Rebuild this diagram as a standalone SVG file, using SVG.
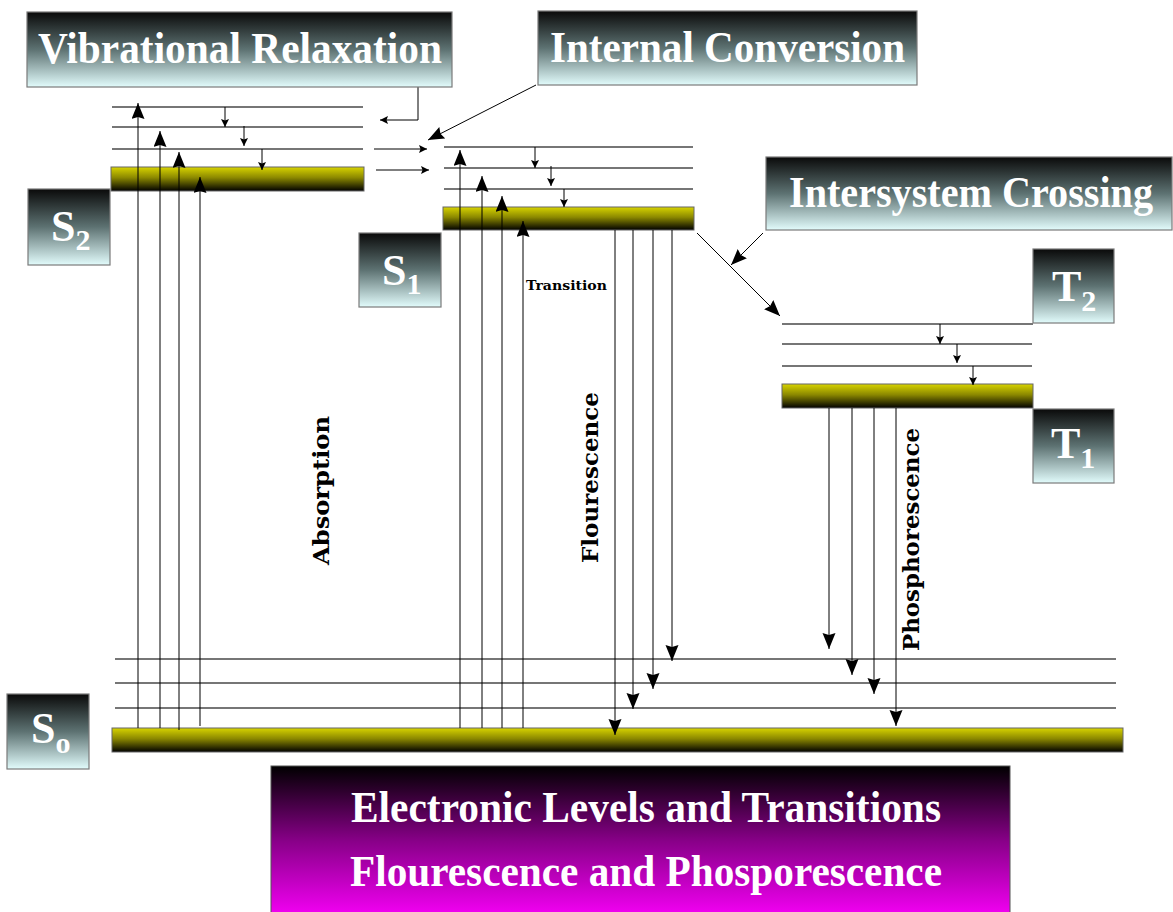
<svg xmlns="http://www.w3.org/2000/svg" width="1173" height="912" viewBox="0 0 1173 912">
<defs>
<linearGradient id="boxg" x1="0" y1="0" x2="0" y2="1">
<stop offset="0" stop-color="#0a0a0a"/>
<stop offset="0.5" stop-color="#5d7272"/>
<stop offset="1" stop-color="#e2fcfc"/>
</linearGradient>
<linearGradient id="barg" x1="0" y1="0" x2="0" y2="1">
<stop offset="0" stop-color="#d8d400"/>
<stop offset="0.45" stop-color="#8a8700"/>
<stop offset="1" stop-color="#000000"/>
</linearGradient>
<linearGradient id="titleg" x1="0" y1="0" x2="0" y2="1">
<stop offset="0" stop-color="#000000"/>
<stop offset="0.5" stop-color="#880088"/>
<stop offset="1" stop-color="#f400f4"/>
</linearGradient>
<marker id="big" markerUnits="userSpaceOnUse" markerWidth="18" markerHeight="14" refX="16" refY="6.5" orient="auto">
<path d="M0,0 L16,6.5 L0,13 L2,6.5 z" fill="#000"/>
</marker>
<marker id="small" markerUnits="userSpaceOnUse" markerWidth="10" markerHeight="10" refX="8" refY="4" orient="auto">
<path d="M0,0 L8,4 L0,8 L1.5,4 z" fill="#000"/>
</marker>
<style>
.box{fill:url(#boxg);stroke:#7a7a7a;stroke-width:1.2}
.bar{fill:url(#barg);stroke:#666;stroke-width:1}
.lvl{stroke:#4a4a4a;stroke-width:1.3;fill:none}
.tr{stroke:#000;stroke-width:1;fill:none}
.big{marker-end:url(#big)}
.sm{marker-end:url(#small)}
.lbl{font-family:'Liberation Serif','Times New Roman',Times,serif;font-weight:700;fill:#fff}
.st{font-size:44px}
.sub{font-size:30px}
.rot{font-family:'DejaVu Serif',serif;font-weight:700;fill:#000}
</style>
</defs>
<rect width="1173" height="912" fill="#fff"/>

<g id="levels">
<rect id="bar-S2" class="bar" x="111" y="167" width="253" height="24"/>
<rect id="bar-S1" class="bar" x="443" y="207" width="251" height="23"/>
<rect id="bar-T1" class="bar" x="782" y="384" width="251" height="24"/>
<rect id="bar-S0" class="bar" x="112" y="728" width="1011" height="24"/>
<path class="lvl" d="M112,107H363M112,127H363M112,149H363"/>
<path class="lvl" d="M444,147H693M444,168H693M444,189H693"/>
<path class="lvl" d="M782,324H1033M782,344H1032M782,366H1032"/>
<path class="lvl" d="M115,659H1116M115,683H1116M115,708H1116"/>
</g>

<g id="connectors">
<path class="tr big" d="M138,728V103"/>
<path class="tr big" d="M160,728V131"/>
<path class="tr big" d="M179,730V152"/>
<path class="tr big" d="M200,726V177"/>
<path class="tr big" d="M460,728V150"/>
<path class="tr big" d="M482,728V176"/>
<path class="tr big" d="M502,728V196"/>
<path class="tr big" d="M523,728V221"/>
<path class="tr big" d="M615,230V735"/>
<path class="tr big" d="M633,230V709"/>
<path class="tr big" d="M653,230V689"/>
<path class="tr big" d="M672,230V661"/>
<path class="tr big" d="M829,408V649"/>
<path class="tr big" d="M852,408V675"/>
<path class="tr big" d="M874,408V694"/>
<path class="tr big" d="M896,408V726"/>
<path class="tr sm" d="M225,107V127"/>
<path class="tr sm" d="M244,126V146"/>
<path class="tr sm" d="M262,149V170"/>
<path class="tr sm" d="M535,147V168"/>
<path class="tr sm" d="M551,166V186"/>
<path class="tr sm" d="M564,189V207"/>
<path class="tr sm" d="M940,324V344"/>
<path class="tr sm" d="M957,344V363"/>
<path class="tr sm" d="M973,366V385"/>
<path class="tr sm" d="M418,87V120H380"/>
<path class="tr sm" d="M374,149H427"/>
<path class="tr sm" d="M376,170H429"/>
<path class="tr big" d="M536,85L428,140"/>
<path class="tr big" d="M697,233L780,316"/>
<path class="tr big" d="M763,233L731,265"/>
</g>

<g id="node-vr">
<rect class="box" x="27" y="12" width="425" height="75"/>
<text class="lbl" x="38" y="63" font-size="45" textLength="404" lengthAdjust="spacingAndGlyphs">Vibrational Relaxation</text>
</g>
<g id="node-ic">
<rect class="box" x="538" y="11" width="379" height="74"/>
<text class="lbl" x="550" y="62" font-size="45" textLength="355" lengthAdjust="spacingAndGlyphs">Internal Conversion</text>
</g>
<g id="node-isc">
<rect class="box" x="766" y="157" width="406" height="73"/>
<text class="lbl" x="789" y="207" font-size="44" textLength="364" lengthAdjust="spacingAndGlyphs">Intersystem Crossing</text>
</g>
<g id="node-S2">
<rect class="box" x="28" y="189" width="82" height="76"/>
<text class="lbl st" x="51" y="241">S<tspan class="sub" dy="9">2</tspan></text>
</g>
<g id="node-S1">
<rect class="box" x="359" y="233" width="82" height="74"/>
<text class="lbl st" x="382" y="285">S<tspan class="sub" dy="9">1</tspan></text>
</g>
<g id="node-T2">
<rect class="box" x="1033" y="249" width="81" height="74"/>
<text class="lbl st" x="1052" y="301">T<tspan class="sub" dy="10">2</tspan></text>
</g>
<g id="node-T1">
<rect class="box" x="1033" y="409" width="81" height="74"/>
<text class="lbl st" x="1051" y="458">T<tspan class="sub" dy="10">1</tspan></text>
</g>
<g id="node-S0">
<rect class="box" x="7" y="694" width="82" height="75"/>
<text class="lbl st" x="31" y="743">S<tspan class="sub" dy="10">o</tspan></text>
</g>

<g id="labels">
<text class="rot" font-size="13" x="526" y="290" textLength="81" lengthAdjust="spacingAndGlyphs">Transition</text>
<text class="rot" font-size="23" transform="translate(329,565) rotate(-90)" textLength="149" lengthAdjust="spacingAndGlyphs">Absorption</text>
<text class="rot" font-size="23" transform="translate(598,563) rotate(-90)" textLength="171" lengthAdjust="spacingAndGlyphs">Flourescence</text>
<text class="rot" font-size="23" transform="translate(919,651) rotate(-90)" textLength="223" lengthAdjust="spacingAndGlyphs">Phosphorescence</text>
</g>

<g id="node-title">
<rect x="271" y="766" width="739" height="150" fill="url(#titleg)" stroke="#555" stroke-width="1"/>
<text class="lbl" x="351" y="822" font-size="45" textLength="590" lengthAdjust="spacingAndGlyphs">Electronic Levels and Transitions</text>
<text class="lbl" x="350" y="886" font-size="45" textLength="592" lengthAdjust="spacingAndGlyphs">Flourescence and Phosporescence</text>
</g>
</svg>
